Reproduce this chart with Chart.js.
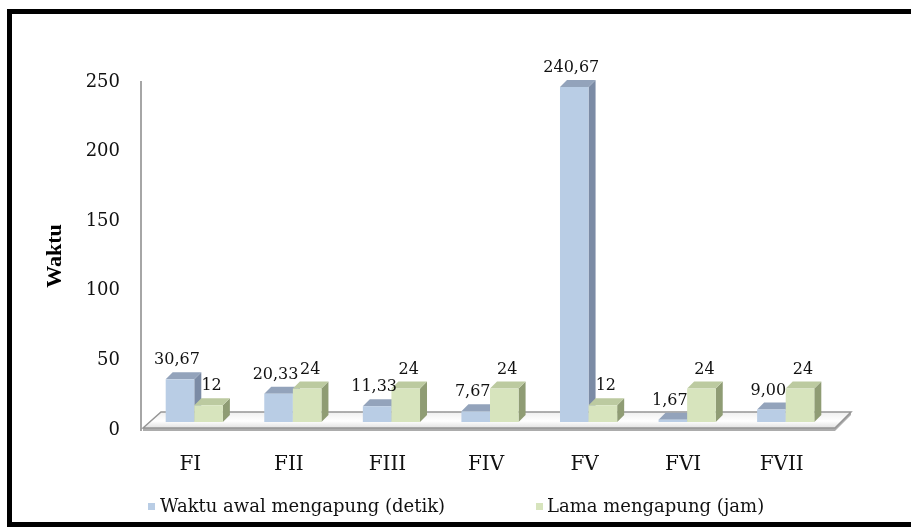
<!DOCTYPE html>
<html>
<head>
<meta charset="utf-8">
<script src="https://cdn.jsdelivr.net/npm/chart.js@4.4.1/dist/chart.umd.min.js"></script>
<style>
    body { margin: 0; background: #fff; }
    canvas { display: block; }
</style>
</head>
<body>
<canvas id="floatChart" width="911" height="529"></canvas>
<script>
// Data
const categories = ['FI', 'FII', 'FIII', 'FIV', 'FV', 'FVI', 'FVII'];
const waktuAwal = [30.67, 20.33, 11.33, 7.67, 240.67, 1.67, 9.00];   // detik
const lamaMengapung = [12, 24, 24, 24, 12, 24, 24];                  // jam
const seriesNames = ['Waktu awal mengapung (detik)', 'Lama mengapung (jam)'];
const yTicks = [0, 50, 100, 150, 200, 250];

// colours of the 3d faces: front, side, top
const faces = [
    { front: '#b9cde5', side: '#7b8ba5', top: '#93a3bb' },
    { front: '#d7e4bd', side: '#8f9c74', top: '#bccaa0' }
];

const serif = "'DejaVu Serif', serif";
const SHIFT_X = 4, SHIFT_Y = -8;   // bars stand a bit into the floor
const DX = 7, DY = -7;             // depth of the boxes

const formatLabel = (v, d) => d === 0 ? v.toFixed(2).replace('.', ',') : String(v);

const bar3d = {
    id: 'bar3d',
    beforeDatasetsDraw(chart) {
        const { ctx, chartArea, scales } = chart;
        const y0 = scales.y.getPixelForValue(0);
        const L = chartArea.left + 2, R = chartArea.right + 4;

        // floor plate
        ctx.save();
        ctx.fillStyle = '#acacac';
        ctx.beginPath();
        ctx.moveTo(L, y0 - 2);
        ctx.lineTo(R, y0 - 2);
        ctx.lineTo(R + 16, y0 - 18);
        ctx.lineTo(R + 16, y0 - 15);
        ctx.lineTo(R, y0 + 1);
        ctx.lineTo(L, y0 + 1);
        ctx.closePath();
        ctx.fill();
        const g = ctx.createLinearGradient(0, y0 - 18, 0, y0);
        g.addColorStop(0, '#efefef');
        g.addColorStop(0.5, '#ffffff');
        g.addColorStop(1, '#d8d8d8');
        ctx.fillStyle = g;
        ctx.beginPath();
        ctx.moveTo(L, y0 - 2);
        ctx.lineTo(L + 18, y0 - 18);
        ctx.lineTo(R + 16, y0 - 18);
        ctx.lineTo(R, y0 - 2);
        ctx.closePath();
        ctx.fill();
        ctx.strokeStyle = '#959595';
        ctx.lineWidth = 1.5;
        ctx.stroke();
        ctx.restore();

        // boxes, one category after the other so the right one covers the left
        for (let i = 0; i < categories.length; i++) {
            chart.data.datasets.forEach((ds, d) => {
                const bar = chart.getDatasetMeta(d).data[i];
                const f = faces[d];
                const x0 = bar.x - bar.width / 2 + SHIFT_X;
                const x1 = bar.x + bar.width / 2 + SHIFT_X;
                const top = bar.y + SHIFT_Y;
                const bottom = bar.base + SHIFT_Y;

                ctx.save();
                // side
                ctx.fillStyle = f.side;
                ctx.beginPath();
                ctx.moveTo(x1, top);
                ctx.lineTo(x1 + DX, top + DY);
                ctx.lineTo(x1 + DX, bottom + DY);
                ctx.lineTo(x1, bottom);
                ctx.closePath();
                ctx.fill();
                // top
                ctx.fillStyle = f.top;
                ctx.beginPath();
                ctx.moveTo(x0, top);
                ctx.lineTo(x0 + DX, top + DY);
                ctx.lineTo(x1 + DX, top + DY);
                ctx.lineTo(x1, top);
                ctx.closePath();
                ctx.fill();
                // front
                ctx.fillStyle = f.front;
                ctx.fillRect(x0, top, x1 - x0, bottom - top);
                ctx.restore();
            });
        }

        // value labels
        ctx.save();
        ctx.font = '16px ' + serif;
        ctx.fillStyle = '#111';
        ctx.textAlign = 'center';
        ctx.textBaseline = 'middle';
        chart.data.datasets.forEach((ds, d) => {
            chart.getDatasetMeta(d).data.forEach((bar, i) => {
                const x = bar.x + SHIFT_X + (d === 0 ? -3 : 3);
                ctx.fillText(formatLabel(ds.data[i], d), x, bar.y + SHIFT_Y - 19);
            });
        });
        ctx.restore();
        return false;
    },
    afterDraw(chart) {
        const { ctx } = chart;
        ctx.save();
        // legend under the axis labels
        ctx.font = '18px ' + serif;
        ctx.textBaseline = 'middle';
        const items = [{ x: 148, tx: 160 }, { x: 536, tx: 547 }];
        items.forEach((it, d) => {
            ctx.fillStyle = faces[d].front;
            ctx.fillRect(it.x, 503, 7, 7);
            ctx.fillStyle = '#111';
            ctx.fillText(seriesNames[d], it.tx, 507);
        });
        // black frame round the figure
        ctx.strokeStyle = '#000';
        ctx.lineWidth = 5;
        ctx.strokeRect(9.5, 11.5, 930, 513);
        ctx.restore();
    }
};

const ctx = document.getElementById('floatChart').getContext('2d');
const floatChart = new Chart(ctx, {
    type: 'bar',
    data: {
        labels: categories,
        datasets: [{
            label: seriesNames[0],
            data: waktuAwal,
            backgroundColor: faces[0].front
        }, {
            label: seriesNames[1],
            data: lamaMengapung,
            backgroundColor: faces[1].front
        }]
    },
    options: {
        responsive: false,
        animation: false,
        categoryPercentage: 0.58,
        barPercentage: 1.0,
        layout: { padding: { left: 12, top: 82, right: 80, bottom: 0 } },
        plugins: {
            legend: { display: false },
            tooltip: { enabled: false }
        },
        scales: {
            x: {
                grid: { display: false, drawTicks: false },
                border: { display: false },
                ticks: { padding: 23, color: '#111', font: { family: serif, size: 20 } },
                afterFit: (scale) => { scale.height = 99; }
            },
            y: {
                min: 0,
                max: 250,
                afterBuildTicks: (scale) => { scale.ticks = yTicks.map(v => ({ value: v })); },
                grid: { display: false, drawTicks: false },
                border: { display: true, color: '#a6a6a6', width: 2 },
                ticks: { padding: 21, color: '#111', font: { family: serif, size: 18 } },
                title: {
                    display: true,
                    text: 'Waktu',
                    color: '#000',
                    padding: { top: 30, bottom: 0 },
                    font: { family: "'Liberation Serif', serif", size: 22, weight: 'bold' }
                },
                afterFit: (scale) => { scale.width = 129; }
            }
        }
    },
    plugins: [bar3d]
});
</script>
</body>
</html>
